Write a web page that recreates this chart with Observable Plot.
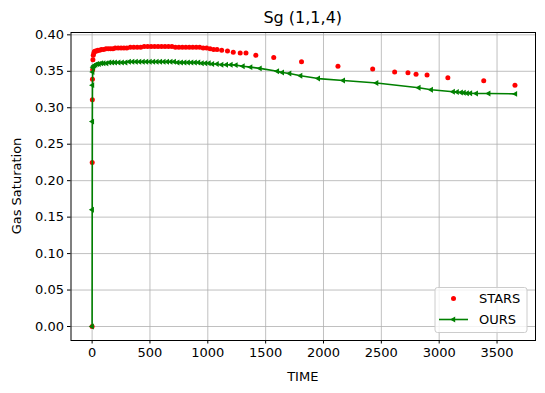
<!DOCTYPE html>
<html><head><meta charset="utf-8">
<script src="https://cdn.jsdelivr.net/npm/d3@7"></script>
<script src="https://cdn.jsdelivr.net/npm/@observablehq/plot@0.6"></script>
<style>body{margin:0;background:#fff}</style>
</head><body><div id="chart"></div>
<script>
const starsTime = [0, 1, 2, 3, 5, 7, 10, 15, 20, 30, 40, 50, 65, 80, 100, 120, 140, 160, 180, 200, 225, 250, 275, 300, 330, 360, 390, 420, 450, 480, 510, 540, 570, 600, 630, 660, 690, 720, 750, 780, 810, 840, 870, 900, 930, 960, 990, 1020, 1050, 1080, 1120, 1170, 1220, 1280, 1330, 1415, 1570, 1810, 2125, 2425, 2615, 2730, 2800, 2895, 3075, 3385, 3655];
const starsSg = [0.000, 0.225, 0.311, 0.339, 0.352, 0.366, 0.372, 0.375, 0.377, 0.378, 0.378, 0.379, 0.379, 0.380, 0.380, 0.381, 0.381, 0.381, 0.381, 0.382, 0.382, 0.382, 0.382, 0.382, 0.383, 0.383, 0.383, 0.383, 0.384, 0.384, 0.384, 0.384, 0.384, 0.384, 0.384, 0.384, 0.384, 0.383, 0.383, 0.383, 0.383, 0.383, 0.383, 0.383, 0.383, 0.382, 0.382, 0.381, 0.380, 0.380, 0.379, 0.378, 0.376, 0.375, 0.375, 0.372, 0.369, 0.363, 0.357, 0.353, 0.349, 0.348, 0.346, 0.345, 0.341, 0.337, 0.331];
const oursTime = [0, 1, 2, 3, 5, 8, 12, 20, 30, 45, 60, 80, 100, 125, 150, 175, 200, 230, 260, 290, 320, 350, 380, 410, 440, 470, 500, 530, 560, 590, 620, 650, 680, 710, 740, 770, 800, 830, 860, 890, 920, 950, 980, 1010, 1040, 1080, 1120, 1160, 1200, 1243, 1304, 1370, 1451, 1601, 1644, 1707, 1802, 1955, 2171, 2459, 2824, 2931, 3121, 3155, 3190, 3215, 3242, 3270, 3320, 3428, 3659];
const oursSg = [0.000, 0.160, 0.281, 0.331, 0.349, 0.355, 0.357, 0.358, 0.359, 0.360, 0.360, 0.361, 0.361, 0.361, 0.362, 0.362, 0.362, 0.362, 0.362, 0.362, 0.363, 0.363, 0.363, 0.363, 0.363, 0.363, 0.363, 0.363, 0.363, 0.363, 0.363, 0.363, 0.363, 0.363, 0.362, 0.362, 0.362, 0.362, 0.362, 0.362, 0.362, 0.361, 0.361, 0.361, 0.360, 0.360, 0.359, 0.359, 0.359, 0.3585, 0.357, 0.3557, 0.354, 0.350, 0.3484, 0.347, 0.344, 0.340, 0.3374, 0.334, 0.3275, 0.3247, 0.322, 0.3215, 0.321, 0.3205, 0.320, 0.3198, 0.3196, 0.3196, 0.319];
const xTicks = [0, 500, 1000, 1500, 2000, 2500, 3000, 3500];
const yTicks = [0, 0.05, 0.10, 0.15, 0.20, 0.25, 0.30, 0.35, 0.40];
const seriesNames = ["STARS", "OURS"];
const titleText = "Sg (1,1,4)";
const xLabel = "TIME";
const yLabel = "Gas Saturation";

const stars = starsTime.map((t, i) => ({t, v: starsSg[i]}));
const ours = oursTime.map((t, i) => ({t, v: oursSg[i]}));

const grid = {stroke: "#b0b0b0", strokeOpacity: 1, strokeWidth: 0.8};
const plot = Plot.plot({
  width: 545, height: 393,
  marginLeft: 70.5, marginRight: 10, marginTop: 32, marginBottom: 53,
  style: {fontFamily: "DejaVu Sans", fontSize: "13px", color: "black", background: "white"},
  x: {domain: [-182.5, 3832.5]},
  y: {domain: [-0.0192, 0.4032]},
  marks: [
    Plot.gridX(xTicks, grid),
    Plot.gridY(yTicks, grid),
    Plot.axisX(xTicks, {tickSize: 3.5, tickPadding: 3.5, tickFormat: "d", label: null}),
    Plot.axisY(yTicks, {tickSize: 3.5, tickPadding: 3.5, tickFormat: ".2f", label: null}),
    Plot.dot(stars, {x: "t", y: "v", r: 2.5, fill: "#ff0000", stroke: "none"}),
    Plot.line(ours, {x: "t", y: "v", stroke: "#008000", strokeWidth: 1.6}),
    Plot.dot(ours, {x: "t", y: "v", symbol: "triangle", rotate: -90, r: 2.2, fill: "#008000", stroke: "none"}),
    Plot.frame({stroke: "black", strokeWidth: 1})
  ]
});
document.getElementById("chart").appendChild(plot);

const svg = d3.select(plot);
svg.append("text").attr("x", 302.75).attr("y", 23).attr("text-anchor", "middle")
  .attr("font-size", 16).attr("fill", "black").text(titleText);
svg.append("text").attr("x", 302.75).attr("y", 381).attr("text-anchor", "middle")
  .attr("font-size", 13).attr("fill", "black").text(xLabel);
svg.append("text").attr("transform", "translate(20.5,186) rotate(-90)").attr("text-anchor", "middle")
  .attr("font-size", 13).attr("fill", "black").text(yLabel);

const lg = svg.append("g");
lg.append("rect").attr("x", 435).attr("y", 287.5).attr("width", 92).attr("height", 45).attr("rx", 2.5)
  .attr("fill", "white").attr("fill-opacity", 0.8).attr("stroke", "#cccccc").attr("stroke-width", 1);
lg.append("circle").attr("cx", 453.5).attr("cy", 298.5).attr("r", 2.5).attr("fill", "#ff0000");
lg.append("text").attr("x", 479).attr("y", 303).attr("text-anchor", "start").attr("font-size", 13).attr("fill", "black").text(seriesNames[0]);
lg.append("line").attr("x1", 439).attr("x2", 468).attr("y1", 319.5).attr("y2", 319.5).attr("stroke", "#008000").attr("stroke-width", 1.6);
lg.append("path").attr("d", d3.symbol(d3.symbolTriangle, Math.PI * 2.2 * 2.2)()).attr("transform", "translate(453.5,319.5) rotate(-90)").attr("fill", "#008000");
lg.append("text").attr("x", 479).attr("y", 324).attr("text-anchor", "start").attr("font-size", 13).attr("fill", "black").text(seriesNames[1]);
</script>
</body></html>
